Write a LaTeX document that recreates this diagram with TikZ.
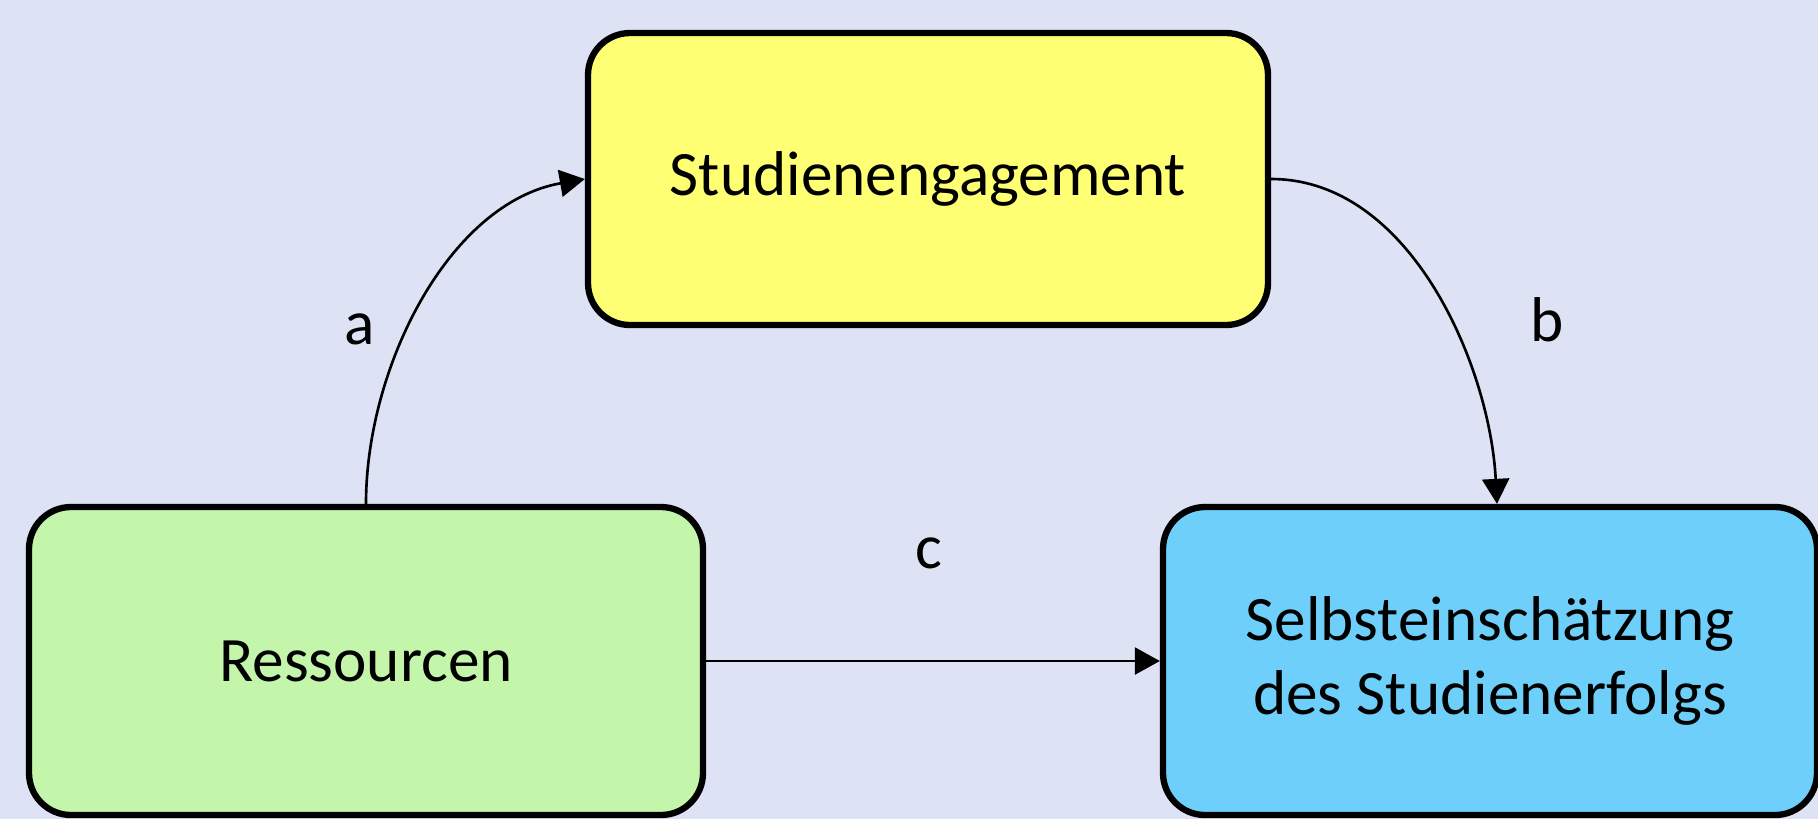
\documentclass[tikz,border=0pt]{standalone}
\usepackage{fontspec}
\setmainfont{Carlito}
\usetikzlibrary{arrows.meta}
\definecolor{bgblue}{RGB}{222,226,245}
\definecolor{boxyellow}{RGB}{255,255,115}
\definecolor{boxgreen}{RGB}{195,245,170}
\definecolor{boxblue}{RGB}{110,208,250}
\begin{document}
\begin{tikzpicture}[
    varbox/.style={draw=black, line width=1.8pt, rounded corners=0.42cm,
      inner sep=0pt, align=center, font=\fontsize{18}{21}\selectfont},
    path/.style={line width=0.75pt, -{Triangle[length=0.25cm,width=0.27cm]}},
    lbl/.style={font=\fontsize{18}{21}\selectfont}
  ]
  \fill[bgblue] (0,0) rectangle (18.18,-8.19);
  \useasboundingbox (0,0) rectangle (18.18,-8.19);
  \node[varbox, fill=boxyellow, minimum width=6.8cm, minimum height=2.92cm] (eng) at (9.28,-1.79) {Studienengagement};
  \node[varbox, fill=boxgreen, minimum width=6.74cm, minimum height=3.08cm] (res) at (3.66,-6.61) {Ressourcen};
  \node[varbox, fill=boxblue, minimum width=6.54cm, minimum height=3.08cm] (sel) at (14.9,-6.61) {Selbsteinschätzung\\des Studienerfolgs};
  \draw[path] (res.north) to[out=90, in=190, looseness=0.9] (eng.west);
  \draw[path] (eng.east) to[out=0, in=93, looseness=0.9] (sel.north -| 14.97,0);
  \draw[path] (res.east) -- (sel.west);
  \node[lbl] (la) at (3.6,-3.29) {a};
  \node[lbl] (lb) at (15.47,-3.2) {b};
  \node[lbl] (lc) at (9.29,-5.53) {c};
\end{tikzpicture}
\end{document}
